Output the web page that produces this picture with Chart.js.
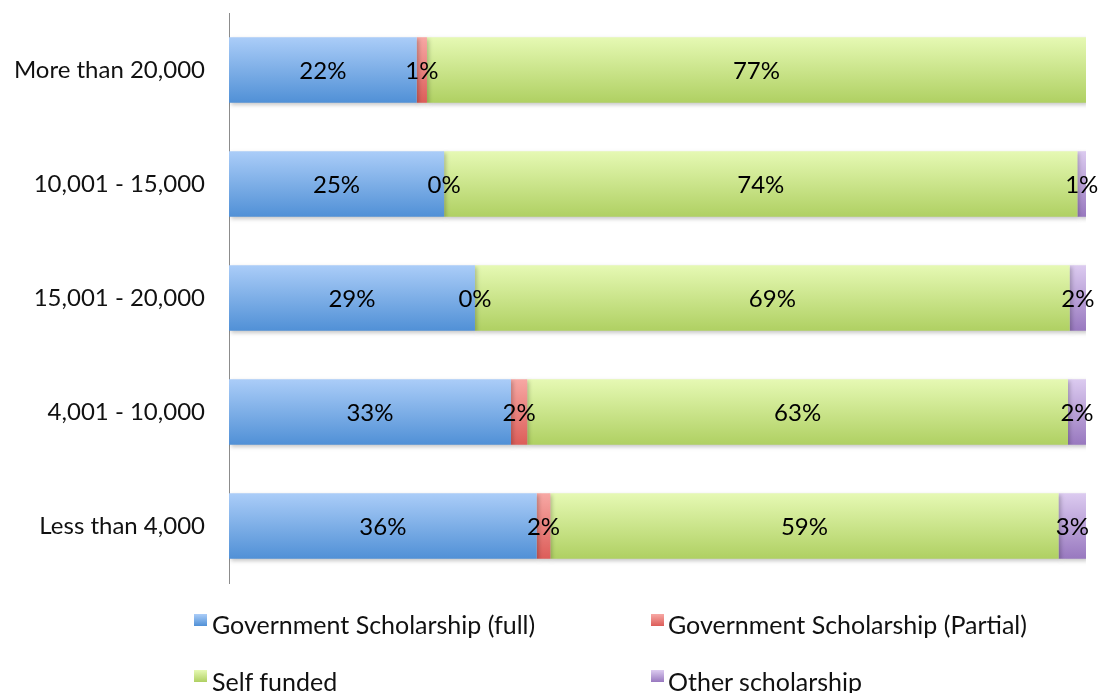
<!DOCTYPE html>
<html>
<head>
<meta charset="utf-8">
<script src="https://cdn.jsdelivr.net/npm/chart.js@4/dist/chart.umd.min.js"></script>
<style>
  html, body { margin: 0; padding: 0; background: #fff; }
  #wrap { position: relative; width: 1101px; height: 693px; overflow: hidden; }
  #legend { position: absolute; left: 0; top: 0; width: 1101px; height: 693px; pointer-events: none;
    font-family: Lato, "Liberation Sans", sans-serif; font-size: 25px; color: #111; }
  .sw { position: absolute; width: 13px; height: 12px; }
  .tx { position: absolute; white-space: nowrap; line-height: 28px; }
</style>
</head>
<body>
<div id="wrap">
  <canvas id="c" width="1101" height="693"></canvas>
  <div id="legend"></div>
</div>
<script>
const categories = ["More than 20,000", "10,001 - 15,000", "15,001 - 20,000", "4,001 - 10,000", "Less than 4,000"];
const seriesNames = ["Government Scholarship (full)", "Government Scholarship (Partial)", "Self funded", "Other scholarship"];
const govFull    = [21.9, 25.1, 28.7, 32.9, 35.9];
const govPartial = [1.2, 0, 0, 1.9, 1.6];
const selfFunded = [76.9, 73.9, 69.4, 63.1, 59.3];
const other      = [null, 1.0, 1.9, 2.1, 3.2];

const gradStops = [
  ["#abcdf8", "#5090d6"],
  ["#f7a8a4", "#dc5d59"],
  ["#e6f9b4", "#afd062"],
  ["#dccbf0", "#9878bf"]
];
// legend layout: [swatchX, swatchY, textX, textTop]
const legendPos = [[194, 614, 212, 610], [651, 614, 668, 610], [194, 670, 212, 667], [651, 670, 668, 667]];

function gradFor(idx) {
  return function(ctx) {
    const chart = ctx.chart;
    const y = chart.scales && chart.scales.y;
    if (!y || ctx.dataIndex === undefined) return gradStops[idx][1];
    const c = y.getPixelForValue(ctx.dataIndex);
    if (!isFinite(c)) return gradStops[idx][1];
    const half = 33;
    const g = chart.ctx.createLinearGradient(0, c - half, 0, c + half);
    g.addColorStop(0, gradStops[idx][0]);
    g.addColorStop(1, gradStops[idx][1]);
    return g;
  };
}

const seriesData = [govFull, govPartial, selfFunded, other];
const datasets = seriesNames.map((n, i) => ({
  label: n,
  data: seriesData[i],
  backgroundColor: gradFor(i),
  borderWidth: 0,
  barPercentage: 0.575,
  categoryPercentage: 1.0
}));

const labelPlugin = {
  id: 'segLabels',
  afterDatasetsDraw(chart) {
    const ctx = chart.ctx;
    ctx.save();
    ctx.font = '24px Lato, "Liberation Sans", sans-serif';
    ctx.fillStyle = '#000';
    ctx.textAlign = 'center';
    ctx.textBaseline = 'middle';
    chart.data.datasets.forEach((ds, di) => {
      const meta = chart.getDatasetMeta(di);
      meta.data.forEach((el, i) => {
        const v = ds.data[i];
        if (v === null || v === undefined) return;
        const cx = (el.x + el.base) / 2;
        ctx.fillText(Math.round(v) + '%', cx, el.y + 1);
      });
    });
    ctx.restore();
  }
};

const shadowPlugin = {
  id: 'barShadow',
  beforeDatasetsDraw(chart) {
    const ctx = chart.ctx;
    ctx.save();
    ctx.shadowColor = 'rgba(0,0,0,0.22)';
    ctx.shadowBlur = 4;
    ctx.shadowOffsetX = 2;
    ctx.shadowOffsetY = 2;
  },
  afterDatasetsDraw(chart) {
    chart.ctx.restore();
  }
};

const chart = new Chart(document.getElementById('c'), {
  type: 'bar',
  data: { labels: categories, datasets },
  options: {
    indexAxis: 'y',
    responsive: false,
    animation: false,
    layout: { padding: { top: 13, right: 15, bottom: 110, left: 0 } },
    plugins: { legend: { display: false }, tooltip: { enabled: false } },
    scales: {
      x: {
        stacked: true, min: 0, max: 100, display: false
      },
      y: {
        stacked: true,
        grid: { display: false, drawTicks: false },
        border: { display: true, color: '#8c8c8c', width: 1 },
        ticks: { color: '#111', padding: 24, font: { family: 'Lato, "Liberation Sans", sans-serif', size: 24 } },
        afterFit(scale) { scale.width = 229; scale.paddingTop = 0; scale.paddingBottom = 0; }
      }
    }
  },
  plugins: [shadowPlugin, labelPlugin]
});

// HTML legend built from dataset labels
const leg = document.getElementById('legend');
seriesNames.forEach((n, i) => {
  const p = legendPos[i];
  const sw = document.createElement('div');
  sw.className = 'sw';
  sw.style.left = p[0] + 'px';
  sw.style.top = p[1] + 'px';
  sw.style.background = 'linear-gradient(' + gradStops[i][0] + ',' + gradStops[i][1] + ')';
  const tx = document.createElement('div');
  tx.className = 'tx';
  tx.style.left = p[2] + 'px';
  tx.style.top = p[3] + 'px';
  tx.textContent = n;
  leg.appendChild(sw); leg.appendChild(tx);
});
</script>
</body>
</html>
